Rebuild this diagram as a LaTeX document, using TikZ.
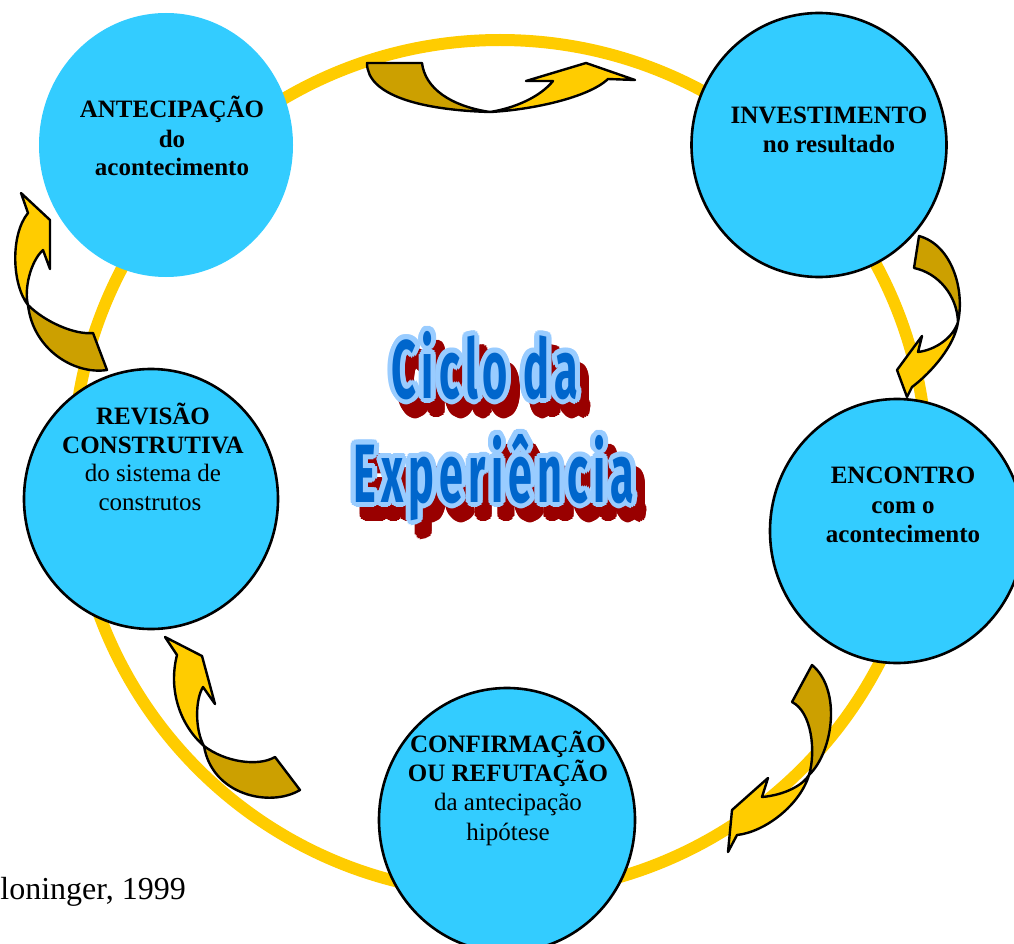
\documentclass[tikz,border=0pt]{standalone}
\usepackage{fontspec}
\setmainfont{Liberation Serif}
\newfontfamily\titlefam{Fira Sans}[LetterSpace=12]
\usetikzlibrary{calc}
\definecolor{ringy}{HTML}{FFCC00}
\definecolor{darkg}{RGB}{204,160,0}
\definecolor{cyanc}{HTML}{33CCFF}
\definecolor{tblue}{HTML}{0066CC}
\definecolor{tlight}{HTML}{99CCFF}
\definecolor{tred}{HTML}{990000}
\newcommand\ttlline[3]{%
  \foreach \k in {0,...,15}{
    \node[ttl,text=tred] (#1r\k) at ($(#2)+(9,14)+({\k*22.5}:5)$) {\scalebox{0.72}[1.38]{#3}};}
  \foreach \k in {0,...,15}{
    \node[ttl,text=tlight] (#1l\k) at ($(#2)+({\k*22.5}:5)$) {\scalebox{0.72}[1.38]{#3}};}
  \node[ttl,text=tblue] (#1) at (#2) {\scalebox{0.72}[1.38]{#3}};
}
\begin{document}
\begin{tikzpicture}[x=1pt,y=-1pt,
  circ/.style={fill=cyanc,draw=black,line width=2.6pt},
  arrdark/.style={fill=darkg,draw=black,line width=2.4pt,line join=round},
  arrlight/.style={fill=ringy,draw=black,line width=2.4pt,line join=round},
  bt/.style={font=\fontsize{25}{25}\selectfont\bfseries,anchor=base,inner sep=0pt},
  rt/.style={font=\fontsize{25}{25}\selectfont,anchor=base,inner sep=0pt},
  ttl/.style={font=\titlefam\bfseries\fontsize{60}{60}\selectfont,anchor=base,inner sep=0pt}]
\useasboundingbox (0,0) rectangle (1014,944);
\clip (0,0) rectangle (1014,944);
\fill[white] (0,0) rectangle (1014,944);
% ring
\draw[ringy,line width=12pt] (500,467) circle[radius=427pt];
% circles
\fill[cyanc] (166,145) ellipse[x radius=127pt,y radius=132pt];
\draw[circ] (819,145) ellipse[x radius=127.5pt,y radius=132pt];
\draw[circ] (897,531) ellipse[x radius=127pt,y radius=132pt];
\draw[circ] (507,820) ellipse[x radius=128pt,y radius=132pt];
\draw[circ] (151,499) ellipse[x radius=127pt,y radius=130pt];
% arrow 1 (top)
\draw[arrdark] (367,63) -- (422,63) .. controls (425,88) and (450,106) .. (490,112)
  .. controls (420,110) and (367,95) .. (367,63) -- cycle;
\draw[arrlight] (490,112) .. controls (530,110) and (588,98) .. (608,79) -- (635,80) -- (586,63)
  -- (526,81) -- (553,81) .. controls (540,97) and (515,108) .. (490,112) -- cycle;
% arrow 2 (right top)
\draw[arrdark] (919,236) -- (914,268) .. controls (938,273) and (957,295) .. (958,322)
  .. controls (965,290) and (952,245) .. (919,236) -- cycle;
\draw[arrlight] (958,322) .. controls (955,345) and (932,372) .. (912,387) -- (907,397) -- (897,370)
  -- (922,336) -- (918,352) .. controls (935,350) and (953,338) .. (958,322) -- cycle;
% arrow 3 (right bottom)
\draw[arrdark] (812,665) -- (792,702) .. controls (812,712) and (816,752) .. (809,775)
  .. controls (833,752) and (842,690) .. (812,665) -- cycle;
\draw[arrlight] (809,775) .. controls (800,805) and (765,832) .. (737,835) -- (728,852) -- (732,810)
  -- (768,778) -- (762,797) .. controls (785,795) and (803,785) .. (809,775) -- cycle;
% arrow 4 (left bottom)
\draw[arrdark] (204,746) .. controls (225,762) and (258,767) .. (275,757) -- (300,790)
  .. controls (270,808) and (212,795) .. (204,746) -- cycle;
\draw[arrlight] (204,746) .. controls (180,725) and (168,690) .. (177,655) -- (165,637) -- (202,656)
  -- (215,704) -- (203,687) .. controls (195,700) and (195,730) .. (204,746) -- cycle;
% arrow 5 (left top)
\draw[arrdark] (28,305) .. controls (45,322) and (75,335) .. (93,333) -- (107,370)
  .. controls (75,375) and (33,350) .. (28,305) -- cycle;
\draw[arrlight] (28,305) .. controls (12,285) and (10,235) .. (28,213) -- (21,193) -- (50,220)
  -- (50,269) -- (43,250) .. controls (30,262) and (24,290) .. (28,305) -- cycle;
% title
\coordinate (t1pos) at (485,398);
\coordinate (t2pos) at (494,502);
\ttlline{tA}{t1pos}{Ciclo da}
\ttlline{tB}{t2pos}{Experiência}
% texts
\node[bt] (a1) at (172,118) {ANTECIPAÇÃO};
\node[bt] (a2) at (172,147.5) {do};
\node[bt] (a3) at (172,175.5) {acontecimento};
\node[bt] (b1) at (829,124) {INVESTIMENTO};
\node[bt] (b2) at (829,152.5) {no resultado};
\node[bt] (c1) at (903,483) {ENCONTRO};
\node[bt] (c2) at (903,513) {com o};
\node[bt] (c3) at (903,542) {acontecimento};
\node[bt] (d1) at (508,752.5) {CONFIRMAÇÃO};
\node[bt] (d2) at (508,781.5) {OU REFUTAÇÃO};
\node[rt] (d3) at (508,810.5) {da antecipação};
\node[rt] (d4) at (508,840) {hipótese};
\node[bt] (e1) at (153,424) {REVISÃO};
\node[bt] (e2) at (153,453) {CONSTRUTIVA};
\node[rt] (e3) at (153,481.5) {do sistema de};
\node[rt] (e4) at (150,510.5) {construtos};
\node[rt,anchor=base east,font=\fontsize{32}{32}\selectfont] (src) at (186,899) {loninger, 1999};
\end{tikzpicture}
\end{document}
